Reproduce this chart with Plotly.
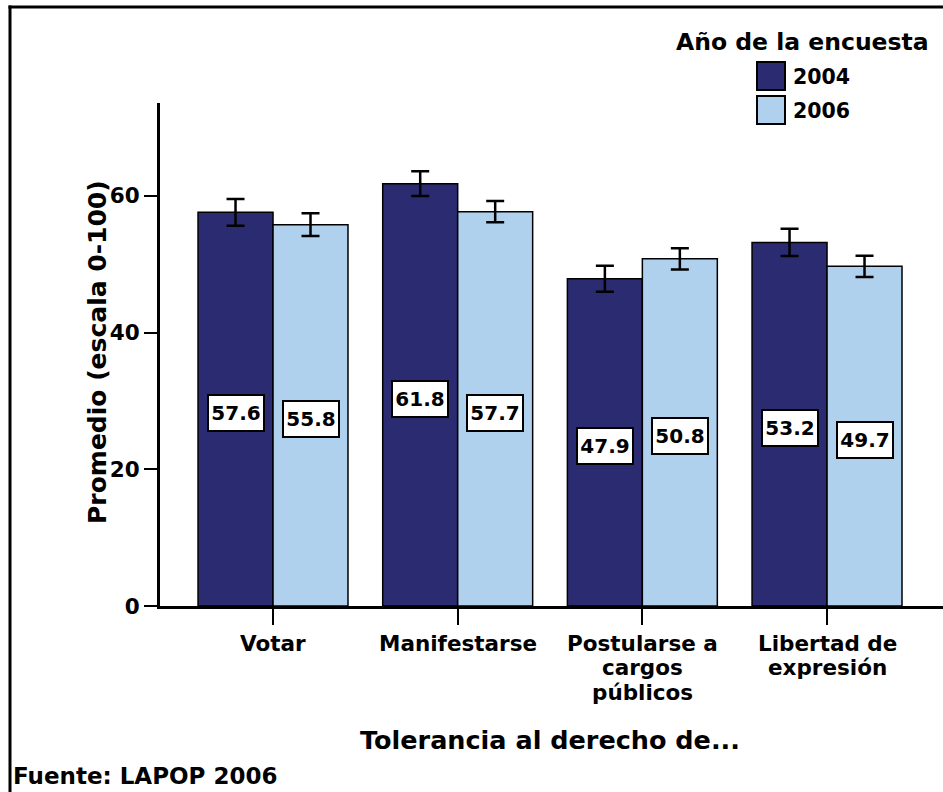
import plotly.graph_objects as go

categories = ["Votar", "Manifestarse", "Postularse a<br>cargos<br>públicos", "Libertad de<br>expresión"]
series_names = ["2004", "2006"]
values_2004 = [57.6, 61.8, 47.9, 53.2]
values_2006 = [55.8, 57.7, 50.8, 49.7]
err_2004 = [1.95, 1.8, 1.9, 2.0]
err_2006 = [1.65, 1.55, 1.55, 1.55]
y_ticks = [0, 20, 40, 60]

colors = ["#2A2B70", "#AFD1EE"]

W, H = 943, 792
L, R, T, B = 160, 0, 103, 186
PW, PH = W - L - R, H - T - B

def px(x):
    return (x - L) / PW

def py(y):
    return (H - B - y) / PH

FONT = "DejaVu Sans"

fig = go.Figure()
for name, vals, errs, col in [(series_names[0], values_2004, err_2004, colors[0]),
                              (series_names[1], values_2006, err_2006, colors[1])]:
    fig.add_trace(go.Bar(
        x=categories, y=vals, name=name,
        marker=dict(color=col, line=dict(color="black", width=1.5)),
        error_y=dict(type="data", array=errs, color="black", thickness=2.5, width=9),
        offsetgroup=name,
    ))

annotations = []
# value labels in boxes at mid-bar
for k, vals in enumerate([values_2004, values_2006]):
    for i, v in enumerate(vals):
        annotations.append(dict(
            x=categories[i], y=v / 2, xref="x", yref="y",
            text=f"{v:.1f}", showarrow=False,
            xshift=(-37.5 if k == 0 else 37.5), yshift=-4,
            width=50, height=30, align="center", valign="middle",
            font=dict(family=FONT, size=20, color="black", weight="bold"),
            bgcolor="white", bordercolor="black", borderwidth=2, borderpad=2,
        ))

# category labels (one annotation per line for tight line spacing)
for i, cat in enumerate(categories):
    for j, line in enumerate(cat.split("<br>")):
        annotations.append(dict(
            x=cat, y=py(643 + 24.5 * j), xref="x", yref="paper",
            text=line, showarrow=False, xanchor="center", yanchor="middle",
            borderpad=0,
            font=dict(family=FONT, size=21.5, color="black", weight="bold"),
        ))

# axis titles, source, legend
annotations += [
    dict(x=px(97), y=py(352), xref="paper", yref="paper", text="Promedio (escala 0-100)",
         textangle=-90, showarrow=False, xanchor="center", yanchor="middle",
         font=dict(family=FONT, size=25, color="black", weight="bold")),
    dict(x=px(550), y=py(740), xref="paper", yref="paper", text="Tolerancia al derecho de...",
         showarrow=False, xanchor="center", yanchor="middle",
         font=dict(family=FONT, size=25.5, color="black", weight="bold")),
    dict(x=px(10.5), y=py(776), xref="paper", yref="paper", text="Fuente: LAPOP 2006",
         showarrow=False, xanchor="left", yanchor="middle",
         font=dict(family=FONT, size=23, color="black", weight="bold")),
    dict(x=px(802), y=py(42), xref="paper", yref="paper", text="Año de la encuesta",
         showarrow=False, xanchor="center", yanchor="middle",
         font=dict(family=FONT, size=23.5, color="black", weight="bold")),
    dict(x=px(791), y=py(77), xref="paper", yref="paper", text=series_names[0],
         showarrow=False, xanchor="left", yanchor="middle",
         font=dict(family=FONT, size=20.5, color="black", weight="bold")),
    dict(x=px(791), y=py(111), xref="paper", yref="paper", text=series_names[1],
         showarrow=False, xanchor="left", yanchor="middle",
         font=dict(family=FONT, size=20.5, color="black", weight="bold")),
]

shapes = [
    dict(type="rect", xref="paper", yref="paper", x0=px(757), x1=px(785), y0=py(62), y1=py(90),
         fillcolor=colors[0], line=dict(color="black", width=2)),
    dict(type="rect", xref="paper", yref="paper", x0=px(757), x1=px(785), y0=py(96), y1=py(124),
         fillcolor=colors[1], line=dict(color="black", width=2)),
    # frame (left and top)
    dict(type="line", xref="paper", yref="paper", x0=px(10), x1=px(10), y0=py(5.5), y1=py(800),
         line=dict(color="black", width=3)),
    dict(type="line", xref="paper", yref="paper", x0=px(8.5), x1=px(950), y0=py(7), y1=py(7),
         line=dict(color="black", width=3)),
]

fig.update_layout(
    width=W, height=H,
    margin=dict(l=L, r=R, t=T, b=B, autoexpand=False),
    paper_bgcolor="white", plot_bgcolor="white",
    showlegend=False,
    barmode="group", bargap=0.188, bargroupgap=0,
    font=dict(family=FONT, color="black"),
    annotations=annotations, shapes=shapes,
    xaxis=dict(
        type="category", range=[-0.612, 3.628],
        showline=True, linecolor="black", linewidth=3,
        ticks="outside", ticklen=16, tickwidth=2, tickcolor="black",
        showticklabels=False,
        showgrid=False, zeroline=False,
    ),
    yaxis=dict(
        range=[0, 73.6], tickvals=y_ticks,
        showline=True, linecolor="black", linewidth=3,
        ticks="outside", ticklen=13, tickwidth=2, tickcolor="black",
        tickfont=dict(family=FONT, size=21.5, color="black", weight="bold"),
        showgrid=False, zeroline=False,
    ),
)

fig.write_html("out.html", config={"displayModeBar": False},
               post_script="document.body.style.margin='0';document.body.style.overflow='hidden';")
